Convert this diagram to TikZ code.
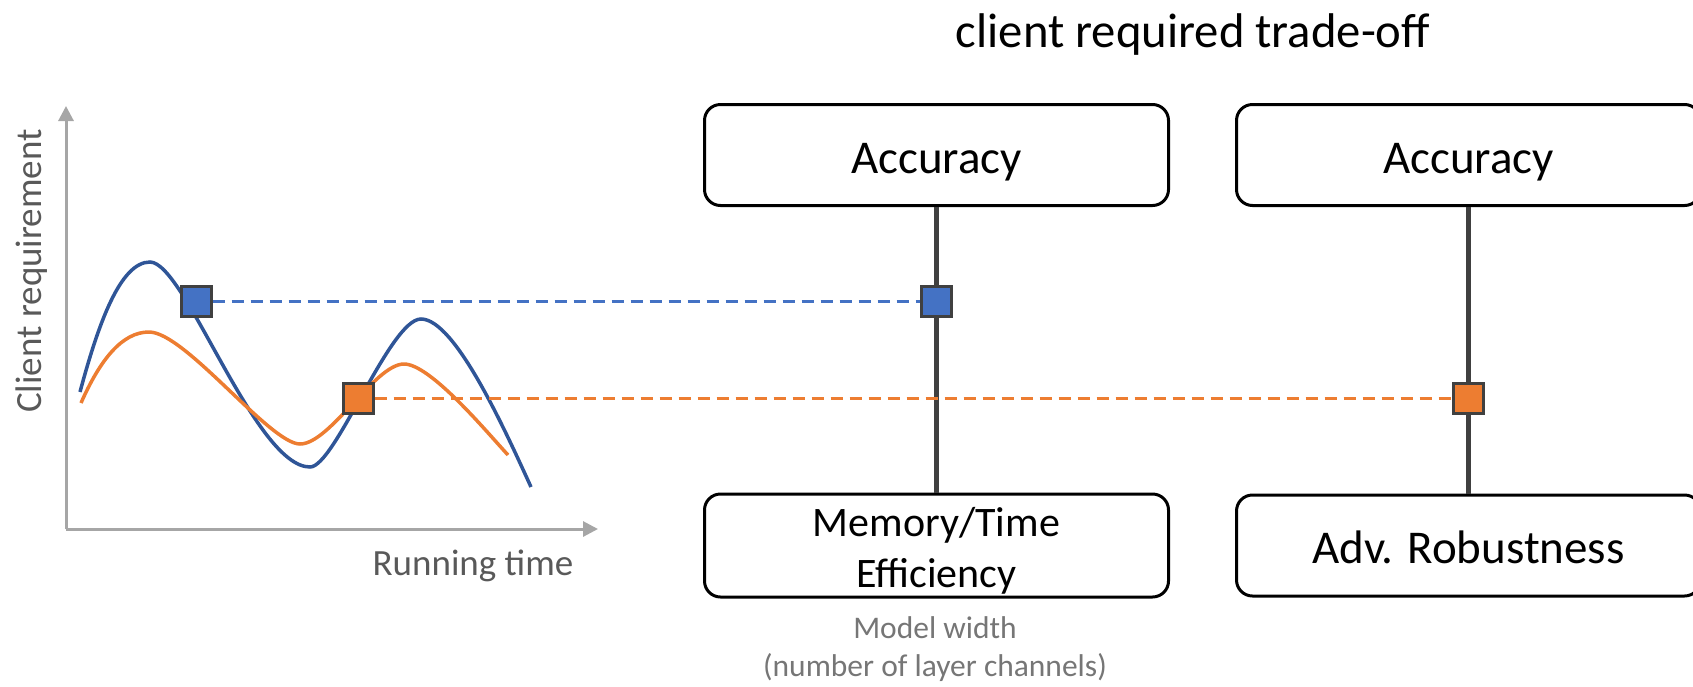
\documentclass[tikz,border=0pt]{standalone}
\usepackage{fontspec}
\setmainfont{Carlito}
\usetikzlibrary{arrows.meta}
\definecolor{navy}{HTML}{2F5597}
\definecolor{cblue}{HTML}{4472C4}
\definecolor{corange}{HTML}{ED7D31}
\definecolor{dgray}{HTML}{404040}
\definecolor{agray}{HTML}{A6A6A6}
\definecolor{tgray}{HTML}{595959}
\definecolor{mgray}{HTML}{767676}
\begin{document}
\begin{tikzpicture}[x=1pt,y=-1pt,
  tbox/.style={draw=black, line width=3pt, rounded corners=16pt, minimum width=464pt, minimum height=101pt, inner sep=0pt, align=center, font=\fontsize{47}{57}\selectfont, text height=46pt, text depth=10pt},
  marker/.style={draw=dgray, line width=3pt, minimum size=30pt, inner sep=0pt},
  axisline/.style={draw=agray, line width=3pt, -{Triangle[length=15pt,width=15pt]}},
  vline/.style={draw=dgray, line width=5pt},
  curve/.style={line width=3.5pt},
  bdash/.style={draw=cblue, line width=3pt, dash pattern=on 12pt off 7pt},
  odash/.style={draw=corange, line width=3pt, dash pattern=on 12pt off 7pt}
]
\useasboundingbox (0,0) rectangle (1693,686);
\clip (0,0) rectangle (1693,686);
% title
\node[font=\fontsize{48.7}{55}\selectfont] (title) at (1193,35) {client required trade-off};
% boxes
\node[tbox] (acc1) at (936.5,155) {Accuracy};
\node[tbox, font=\fontsize{42}{51}\selectfont, text height=93pt, text depth=10pt] (mem) at (936.5,545.5) {Memory/Time\\Efficiency};
\node[tbox] (acc2) at (1468.5,155) {Accuracy};
\node[tbox] (adv) at (1468.5,545.5) {Adv. Robustness};
\draw[vline] (acc1) -- (mem);
\draw[vline] (acc2) -- (adv);
\node[text=mgray, font=\fontsize{31.5}{38}\selectfont, align=center] (mw) at (935,649) {Model width\\(number of layer channels)};
% axes
\coordinate (o) at (66,529);
\coordinate (yt) at (66,106);
\coordinate (xt) at (598,529);
\draw[axisline] (o) -- (yt);
\draw[axisline] (o) -- (xt);
\node[rotate=90, text=tgray, font=\fontsize{37}{42}\selectfont] (ylab) at (32,271) {Client requirement};
\node[text=tgray, font=\fontsize{37}{42}\selectfont] (xlab) at (473,566) {Running time};
% curves
\draw[curve, navy] (80,392) .. controls (98,325) and (120,262) .. (150,262)
  .. controls (185,262) and (255,467) .. (310,467)
  .. controls (335,467) and (390,319) .. (421,319)
  .. controls (455,319) and (505,430) .. (531,487);
\draw[curve, corange] (81,403) .. controls (100,360) and (122,332) .. (149,332)
  .. controls (185,332) and (270,444) .. (300,444)
  .. controls (330,444) and (375,364) .. (404,364)
  .. controls (430,364) and (485,430) .. (508,455);
% markers
\node[marker, fill=cblue] (bl) at (196,301) {};
\node[marker, fill=corange] (ol) at (358,398) {};
\node[marker, fill=cblue] (bm) at (936,301) {};
\node[marker, fill=corange] (om) at (1468,398) {};
\draw[bdash] (bl) -- (bm);
\draw[odash] (ol) -- (om);
\end{tikzpicture}
\end{document}
